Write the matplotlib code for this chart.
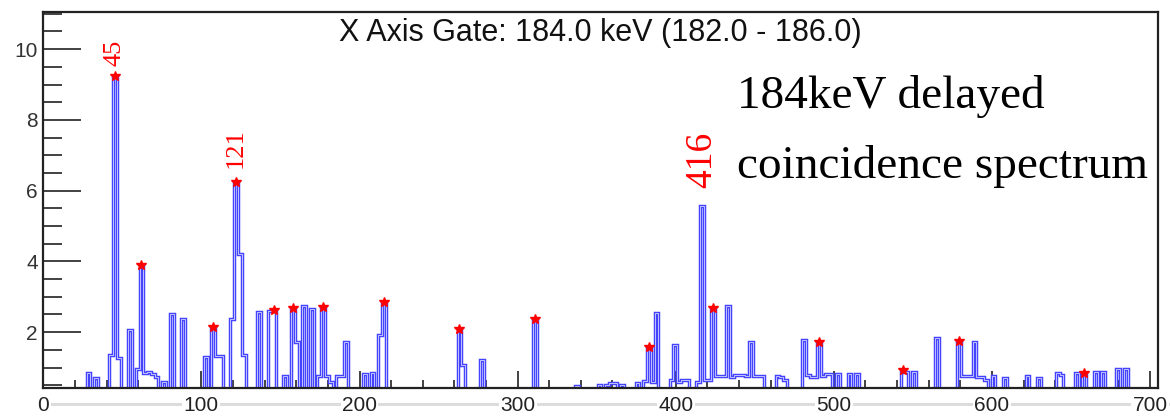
import matplotlib
matplotlib.use("Agg")
import matplotlib.pyplot as plt
import numpy as np
from matplotlib.ticker import MultipleLocator

# histogram binning (keV)
BIN_WIDTH = 2.395
FIRST_EDGE = -1.405
N_BINS = 300

# non-empty bins: bin centre (keV) and counts
energy_kev = [
    28.5, 33.3, 42.9, 45.3, 47.7, 54.9, 59.7, 62.1, 64.5, 66.9, 69.2, 71.6,
    76.4, 81.2, 88.4, 102.8, 107.6, 110.0, 112.4, 119.5, 121.9, 124.3, 126.7,
    136.3, 143.5, 145.9, 153.1, 157.9, 160.3, 165.0, 169.8, 174.6, 177.0,
    179.4, 181.8, 186.6, 189.0, 191.4, 203.4, 208.2, 213.0, 215.3,
    263.2, 265.6, 277.6, 311.1, 337.5, 351.9, 356.6, 359.0, 361.4, 366.2,
    375.8, 380.6, 383.0, 385.4, 387.8, 397.4, 399.8, 402.2, 404.5, 406.9,
    414.1, 416.5, 418.9, 421.3, 423.7, 426.1, 428.5, 430.9, 433.3, 435.7,
    438.1, 440.5, 442.9, 445.3, 447.7, 450.0, 452.4, 454.8, 464.4, 466.8,
    469.2, 481.2, 483.6, 486.0, 488.4, 490.8, 493.2, 495.6, 498.0, 502.7,
    509.9, 514.7, 543.5, 545.9, 550.6, 565.0, 579.4, 581.8, 584.2, 586.6,
    589.0, 591.4, 593.8, 596.1, 600.9, 608.1, 622.5, 629.7, 641.6, 644.0,
    653.6, 658.4, 665.6, 670.4, 680.0, 684.8,
]
counts = [
    0.84, 0.70, 1.36, 9.25, 1.26, 2.06, 0.95, 3.90, 0.86, 0.88, 0.82, 0.72,
    0.60, 2.50, 2.36, 1.31, 2.16, 1.34, 1.34, 2.37, 6.25, 4.21, 1.36,
    2.56, 2.60, 2.64, 0.76, 2.67, 1.71, 2.74, 2.65, 0.75, 2.72,
    0.75, 0.60, 0.75, 0.75, 1.71, 0.81, 0.84, 1.92, 2.86,
    2.08, 1.07, 1.21, 2.36, 0.48, 0.50, 0.50, 0.57, 0.57, 0.50,
    0.57, 0.62, 1.57, 0.60, 2.55, 0.65, 1.64, 0.60, 0.65, 0.65,
    0.60, 5.56, 0.65, 0.65, 2.67, 0.76, 0.76, 0.76, 2.74, 0.74,
    0.79, 0.79, 0.79, 0.76, 1.73, 0.76, 0.76, 0.76, 0.76, 0.72,
    0.65, 1.78, 0.79, 0.72, 0.72, 1.71, 0.75, 0.81, 0.81, 0.81,
    0.81, 0.81, 0.93, 0.88, 0.88, 1.83, 1.75, 0.75, 0.75, 0.75,
    1.73, 0.72, 0.72, 0.65, 0.75, 0.70, 0.75, 0.70, 0.84, 0.79,
    0.84, 0.84, 0.88, 0.88, 0.95, 0.95,
]

# peaks found (red stars) and the labelled ones
star_kev = [45.3, 62.1, 107.6, 121.9, 145.9, 157.9, 177.0, 215.3, 263.2,
            311.1, 383.0, 423.7, 490.8, 543.5, 579.4, 658.4]
label_kev = [45.3, 121.9, 416.5]
label_text = ["45", "121", "416"]

x_ticks = [0, 100, 200, 300, 400, 500, 600, 700]
x_tick_labels = ["0", "100", "200", "300", "400", "500", "600", "700"]
y_ticks = [2, 4, 6, 8, 10]
y_tick_labels = ["2", "4", "6", "8", "10"]

title = "X Axis Gate: 184.0 keV (182.0 - 186.0)"
note_lines = ["184keV delayed", "coincidence spectrum"]

edges = FIRST_EDGE + BIN_WIDTH * np.arange(N_BINS + 1)
hist, _ = np.histogram(energy_kev, bins=edges, weights=counts)


def height_at(e):
    i = np.searchsorted(edges, e) - 1
    return hist[i]


fig = plt.figure(figsize=(11.7, 4.16), dpi=100)
ax = fig.add_axes([0.037, 0.068, 0.9527, 0.9031])

ax.stairs(hist, edges, color="#4444ff", lw=2.5, zorder=2)
ax.stairs(hist, edges, color="#d6d6ff", lw=0.6, zorder=2.1)

ax.plot(star_kev, [height_at(e) for e in star_kev], "*", color="red",
        ms=7, mec="red", zorder=3)

label_sizes = [19, 19, 27]
label_offsets = [7, 10, 13]
for e, txt, fs, off in zip(label_kev, label_text, label_sizes, label_offsets):
    ax.annotate(txt, (e, height_at(e)), xytext=(0, off), textcoords="offset points",
                rotation=90, ha="center", va="bottom", color="red",
                fontsize=fs, family="Liberation Serif")

ax.set_xlim(0, 705)
ax.set_ylim(0.43, 11.05)

ax.set_xticks(x_ticks, x_tick_labels)
ax.xaxis.set_minor_locator(MultipleLocator(20))
ax.set_yticks(y_ticks, y_tick_labels)
ax.yaxis.set_minor_locator(MultipleLocator(0.5))

ax.tick_params(axis="x", which="major", direction="in", length=12, width=1.2,
               pad=6, labelsize=15, labelcolor="#222222", color="#222222")
ax.tick_params(axis="x", which="minor", direction="in", length=6, width=1.2,
               color="#222222")
ax.tick_params(axis="y", which="major", direction="in", length=27, width=1.3,
               pad=4, labelsize=15, labelcolor="#333333", color="#333333")
ax.tick_params(axis="y", which="minor", direction="in", length=14, width=1.3,
               color="#333333")
for lbl in ax.get_xticklabels() + ax.get_yticklabels():
    lbl.set_family("Liberation Sans")
for lbl in ax.get_xticklabels():
    lbl.set_bbox(dict(facecolor="white", edgecolor="none", pad=1))

# light grey rule that runs through the x tick labels
ax.plot([0, 1.01], [-0.043, -0.043], transform=ax.transAxes, color="#dcdcdc",
        lw=2.2, clip_on=False, zorder=0)

for side in ["left", "bottom", "top", "right"]:
    ax.spines[side].set_linewidth(1.6)
    ax.spines[side].set_color("#222222")

ax.text(0.5, 0.985, title, transform=ax.transAxes, ha="center", va="top",
        fontsize=22, family="Liberation Sans", color="#111111")
ax.text(0.6223, 0.745, note_lines[0], transform=ax.transAxes, ha="left",
        va="baseline", fontsize=34, family="Liberation Serif", color="black")
ax.text(0.6223, 0.558, note_lines[1], transform=ax.transAxes, ha="left",
        va="baseline", fontsize=34, family="Liberation Serif", color="black")

fig.savefig("out.png", dpi=100)
plt.close(fig)
